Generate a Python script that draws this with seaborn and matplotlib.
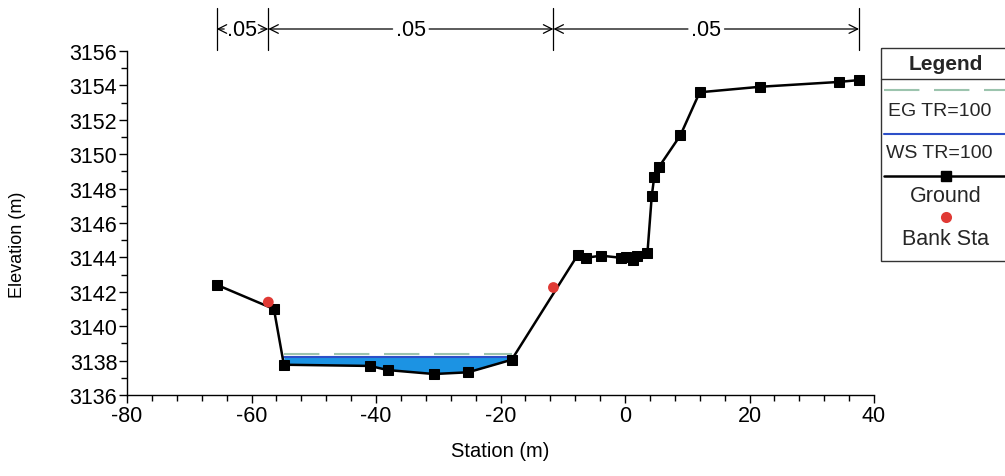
import matplotlib
matplotlib.use("Agg")
import matplotlib.pyplot as plt
import matplotlib.transforms as mtransforms
from matplotlib.patches import Rectangle
from matplotlib.lines import Line2D
from matplotlib.ticker import MultipleLocator
import numpy as np
import pandas as pd
import seaborn as sns

# ---------------- data ----------------
ground_station = [-65.6, -56.4, -54.8, -41.0, -38.1, -30.7, -25.2, -18.2,
                  -7.6, -6.3, -3.8, -0.7, 0.15, 1.3, 2.0, 3.6,
                  4.3, 4.7, 5.4, 8.9, 12.0, 21.7, 34.3, 37.6]
ground_elev = [3142.41, 3141.0, 3137.76, 3137.69, 3137.45, 3137.22, 3137.32, 3138.05,
               3144.14, 3143.98, 3144.10, 3143.98, 3144.0, 3143.85, 3144.10, 3144.24,
               3147.58, 3148.69, 3149.23, 3151.1, 3153.6, 3153.92, 3154.2, 3154.31]
bank_station = [-57.3, -11.5]
bank_elev = [3141.4, 3142.25]
ws_elev = 3138.22          # WS TR=100
eg_elev = 3138.38          # EG TR=100
channel_start, channel_end = -54.8, -18.2
n_breaks = [-65.6, -57.3, -11.5, 37.6]
n_values = [".05", ".05", ".05"]
x_ticks = [-80, -60, -40, -20, 0, 20, 40]
y_ticks = [3136, 3138, 3140, 3142, 3144, 3146, 3148, 3150, 3152, 3154, 3156]

# ---------------- style ----------------
sns.set_theme(style="white")
plt.rcParams["font.family"] = ["Liberation Sans", "DejaVu Sans"]
plt.rcParams["axes.unicode_minus"] = False

FS = 15.5
LFS = 14
EG_COLOR = "#9cc4ae"
WS_COLOR = "#2d4fc8"
FILL_COLOR = "#1c93e3"
BANK_COLOR = "#e03a35"

fig = plt.figure(figsize=(10.05, 4.77), dpi=100)
ax = fig.add_axes([127 / 1005, 1 - 396 / 477, (874 - 127) / 1005, (396 - 52) / 477])

gdf = pd.DataFrame({"Station": ground_station, "Elevation": ground_elev})
bdf = pd.DataFrame({"Station": bank_station, "Elevation": bank_elev})

# water fill between WS and ground in channel
xs = np.array(ground_station)
ys = np.array(ground_elev)
mask = (xs >= channel_start) & (xs <= channel_end)
ax.fill_between(xs[mask], ys[mask], ws_elev, color=FILL_COLOR, zorder=1, lw=0)
ax.plot([channel_start, channel_end], [ws_elev, ws_elev], color=WS_COLOR, lw=1.5, zorder=2)
ax.plot([channel_start, channel_end], [eg_elev, eg_elev], color=EG_COLOR, lw=1.5,
        dashes=(17, 7), zorder=2)

sns.lineplot(data=gdf, x="Station", y="Elevation", ax=ax, color="black", lw=1.8,
             marker="s", markersize=7, markeredgecolor="black", estimator=None,
             sort=False, zorder=3)
sns.scatterplot(data=bdf, x="Station", y="Elevation", ax=ax, color=BANK_COLOR,
                s=60, edgecolor="none", zorder=4)

ax.set_xlim(-80, 40)
ax.set_ylim(3136, 3156)
ax.set_xticks(x_ticks)
ax.set_yticks(y_ticks)
ax.xaxis.set_minor_locator(MultipleLocator(4))
ax.yaxis.set_minor_locator(MultipleLocator(1))
for s in ["top", "right"]:
    ax.spines[s].set_visible(False)
for s in ["left", "bottom"]:
    ax.spines[s].set_color("black")
    ax.spines[s].set_linewidth(1.0)
ax.tick_params(axis="both", which="major", direction="out", length=6, width=1,
               colors="black", labelsize=FS, pad=1, left=True, bottom=True)
ax.tick_params(axis="both", which="minor", direction="out", length=4, width=1,
               colors="black", left=True, bottom=True)
ax.set_xlabel("Station (m)", fontsize=14.5, color="black", labelpad=11)
ax.set_ylabel("")
fig.text(18 / 1005, 1 - 245 / 477, "Elevation (m)", rotation=90, ha="center",
         va="center", fontsize=13, color="black")

# ---------------- Manning's n bars ----------------
trans = mtransforms.blended_transform_factory(ax.transData, fig.transFigure)
y_top, y_bot, y_arr = 1 - 9 / 477, 1 - 51 / 477, 1 - 30 / 477
for xb in n_breaks:
    ax.add_line(Line2D([xb, xb], [y_bot, y_top], transform=trans, color="black",
                       lw=0.9, clip_on=False))
for i, nv in enumerate(n_values):
    x0, x1 = n_breaks[i], n_breaks[i + 1]
    xc = (x0 + x1) / 2
    for j, xt in enumerate([x0, x1]):
        ax.annotate(nv, xy=(xt, y_arr), xycoords=trans, xytext=(xc, y_arr),
                    textcoords=trans, ha="center", va="center", fontsize=FS,
                    color="black" if j == 0 else "none",
                    arrowprops=dict(arrowstyle="->", color="black", lw=0.9,
                                    shrinkA=0, shrinkB=0),
                    annotation_clip=False)

# ---------------- legend (drawn box) ----------------
lax = fig.add_axes([0, 0, 1, 1], facecolor="none")
lax.set_xlim(0, 1005)
lax.set_ylim(477, 0)
lax.axis("off")
lax.add_patch(Rectangle((881, 49), 140, 213, fill=False, edgecolor="#333333", lw=1.0))
lax.plot([881, 1010], [80, 80], color="#333333", lw=1.0)
lax.text(946, 64, "Legend", ha="center", va="center", fontsize=15, fontweight="bold")
lax.plot([884, 1010], [91, 91], color=EG_COLOR, lw=1.5, dashes=(17, 7))
lax.text(888, 112, "EG TR=100", ha="left", va="center", fontsize=LFS)
lax.plot([884, 1010], [135, 135], color=WS_COLOR, lw=1.5)
lax.text(886, 154, "WS TR=100", ha="left", va="center", fontsize=LFS)
lax.plot([884, 1010], [177, 177], color="black", lw=1.8)
lax.plot([946], [177], marker="s", color="black", markersize=7)
lax.text(946, 197, "Ground", ha="center", va="center", fontsize=FS)
lax.plot([946], [218], marker="o", color=BANK_COLOR, markersize=8, markeredgecolor="none")
lax.text(946, 240, "Bank Sta", ha="center", va="center", fontsize=FS)

fig.savefig("out.png", dpi=100, facecolor="white")
